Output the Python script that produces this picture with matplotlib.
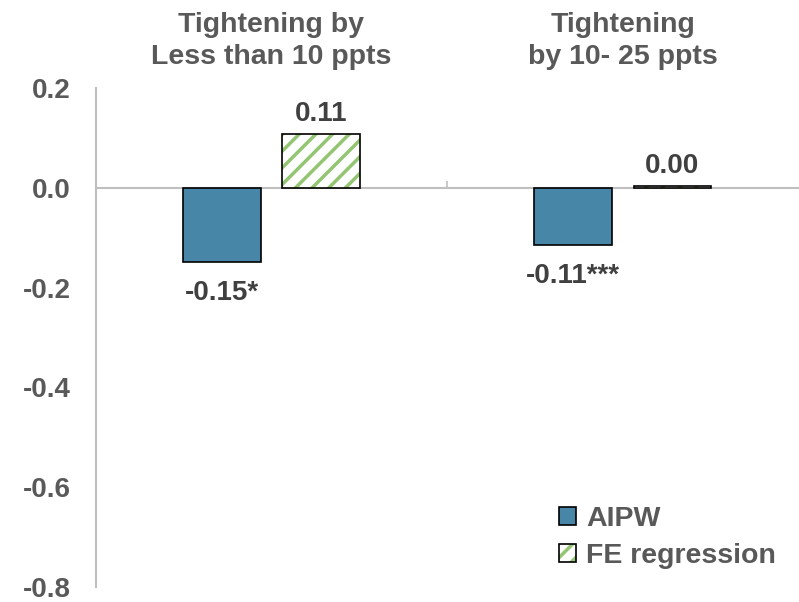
import matplotlib.pyplot as plt
import numpy as np
from matplotlib.patches import Patch
from matplotlib.legend_handler import HandlerTuple

# Données
categories = ['Tightening by\nLess than 10 ppts', 'Tightening\nby 10- 25 ppts']
aipw = [-0.148, -0.114]
fe_reg = [0.108, 0.003]
aipw_labels = ['-0.15*', '-0.11***']
fe_labels = ['0.11', '0.00']
yticks = [0.2, 0.0, -0.2, -0.4, -0.6, -0.8]

plt.rcParams['font.family'] = ['Liberation Sans', 'DejaVu Sans']
plt.rcParams['font.weight'] = 'bold'
plt.rcParams['hatch.linewidth'] = 2.5

blue = '#4886a8'
green = '#93c572'
txt = '#595959'
lab = '#404040'

fig = plt.figure(figsize=(7.99, 6.02), dpi=100)
ax = fig.add_axes([0.120, 0.025, 0.879, 0.829])

x = np.arange(len(categories))
w = 0.222
off = 0.142

ax.bar(x - off, aipw, w, color=blue, edgecolor='black', linewidth=1.2, zorder=3)
ax.bar(x + off, fe_reg, w, color='white', edgecolor=green, hatch='//', linewidth=0, zorder=3)
ax.bar(x + off, fe_reg, w, fill=False, edgecolor='black', linewidth=1.2, zorder=4)

# Étiquettes des barres
for i in range(len(categories)):
    ax.text(x[i] - off, aipw[i] - 0.037, aipw_labels[i], ha='center', va='top',
            fontsize=20, color=lab, fontweight='bold')
    ax.text(x[i] + off, fe_reg[i] + 0.026, fe_labels[i], ha='center', va='baseline',
            fontsize=20, color=lab, fontweight='bold')
    ax.text(x[i], 1.035, categories[i], transform=ax.get_xaxis_transform(),
            ha='center', va='bottom', fontsize=20.5, color=txt, fontweight='bold',
            linespacing=1.3)

ax.set_xlim(-0.5, 1.5)
ax.set_ylim(-0.8, 0.2)
ax.set_yticks(yticks)
ax.set_yticklabels(['%.1f' % v for v in yticks])
ax.tick_params(axis='y', length=0, pad=18, labelsize=20, labelcolor=txt)

ax.spines['top'].set_visible(False)
ax.spines['right'].set_visible(False)
ax.spines['left'].set_color('#bfbfbf')
ax.spines['left'].set_linewidth(1.5)
ax.spines['bottom'].set_position(('data', 0))
ax.spines['bottom'].set_color('#bfbfbf')
ax.spines['bottom'].set_linewidth(1.5)
ax.set_xticks([0.5])
ax.set_xticklabels([])
ax.tick_params(axis='x', direction='in', length=5, color='#bfbfbf', width=1.2)

h1 = Patch(facecolor=blue, edgecolor='black', linewidth=1.2)
h2a = Patch(facecolor='white', edgecolor=green, hatch='//', linewidth=0)
h2b = Patch(fill=False, edgecolor='black', linewidth=1.2)
leg = ax.legend([h1, (h2a, h2b)], ['AIPW', 'FE regression'],
                handler_map={tuple: HandlerTuple(ndivide=1, pad=0)},
                loc='lower right', bbox_to_anchor=(0.968, 0.035), frameon=False,
                handlelength=0.6, handleheight=0.6, handletextpad=0.35,
                labelspacing=0.4, fontsize=20.5, labelcolor=txt,
                borderpad=0, borderaxespad=0)

plt.savefig('out.png', dpi=100)
